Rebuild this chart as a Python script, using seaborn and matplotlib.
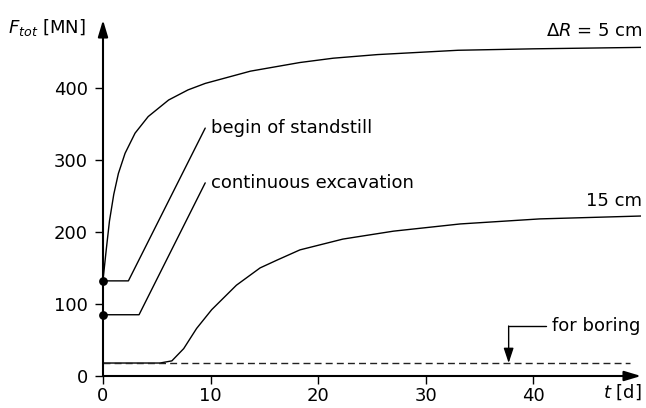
import numpy as np
import pandas as pd
import matplotlib
matplotlib.use("Agg")
import matplotlib.pyplot as plt
import seaborn as sns

# curve data
t_5cm = [0, 0.3, 0.6, 1.0, 1.43, 2.05, 2.98, 4.2, 6.1, 7.9, 9.5, 13.7, 18.3, 21.4, 25.5, 33, 40, 50]
f_5cm = [133, 175, 215, 252, 281, 309, 337, 360, 383, 397, 406, 423, 435, 441, 446, 452, 454, 456]

t_15cm = [0, 5.3, 6.4, 7.5, 8.7, 10.1, 12.4, 14.6, 16.2, 18.3, 22.3, 27, 33.2, 40.6, 50]
f_15cm = [18, 18, 21, 38, 66, 92, 126, 150, 161, 175, 190, 201, 211, 218, 222]

t_standstill = [0, 2.36, 9.5]
f_standstill = [132, 132, 344]

t_excav = [0, 3.35, 9.5]
f_excav = [85, 85, 268]

t_boring = [0, 49]
f_boring = [18, 18]

x_ticks = [0, 10, 20, 30, 40]
y_ticks = [0, 100, 200, 300, 400]

sns.set_style("ticks")
plt.rcParams['font.family'] = ['DejaVu Sans']
plt.rcParams['text.color'] = 'black'
plt.rcParams['mathtext.fontset'] = 'custom'
plt.rcParams['mathtext.rm'] = 'DejaVu Sans'
plt.rcParams['mathtext.it'] = 'DejaVu Sans:italic'

fig = plt.figure(figsize=(6.46, 4.08), dpi=100)
ax = fig.add_axes([103 / 646, 32 / 408, 538 / 646, 356 / 408])

lw = 1.0
sns.lineplot(x=t_5cm, y=f_5cm, ax=ax, color='black', lw=lw, sort=False)
sns.lineplot(x=t_15cm, y=f_15cm, ax=ax, color='black', lw=lw, sort=False)
sns.lineplot(x=t_standstill, y=f_standstill, ax=ax, color='black', lw=lw, sort=False)
sns.lineplot(x=t_excav, y=f_excav, ax=ax, color='black', lw=lw, sort=False)
ax.plot(t_boring, f_boring, color='#222222', lw=lw, dashes=(5, 3))
ax.scatter([t_standstill[0], t_excav[0]], [f_standstill[0], f_excav[0]],
           s=28, color='black', zorder=5, clip_on=False)

ax.set_xlim(0, 50)
ax.set_ylim(0, 494)
ax.set_xticks(x_ticks)
ax.set_yticks(y_ticks)
fs = 13
ax.tick_params(direction='out', length=6, width=1.0, labelsize=fs, colors='black')
ax.tick_params(axis='y', pad=5)
ax.tick_params(axis='x', pad=2)
ax.set_xlabel('')
ax.set_ylabel('')

# axes as arrows
for s in ax.spines.values():
    s.set_visible(False)
ax.annotate('', xy=(1.0, 0), xytext=(0, 0), xycoords='axes fraction',
            arrowprops=dict(arrowstyle='-|>,head_length=1.0,head_width=0.3',
                            color='black', lw=1.5, shrinkA=0, shrinkB=0))
ax.annotate('', xy=(0, 1.0), xytext=(0, 0), xycoords='axes fraction',
            arrowprops=dict(arrowstyle='-|>,head_length=1.0,head_width=0.3',
                            color='black', lw=1.5, shrinkA=0, shrinkB=0))

ax.text(10.0, 344, 'begin of standstill', fontsize=fs, va='center', ha='left')
ax.text(10.0, 268, 'continuous excavation', fontsize=fs, va='center', ha='left')
ax.text(50.1, 466, r'$ΔR$ = 5 cm', fontsize=fs, va='bottom', ha='right')
ax.text(50.1, 231, '15 cm', fontsize=fs, va='bottom', ha='right')

# "for boring" leader
ax.plot([41.2, 37.7], [69.4, 69.4], color='black', lw=1.0, clip_on=False)
ax.annotate('', xy=(37.7, 18), xytext=(37.7, 69.4), xycoords='data',
            arrowprops=dict(arrowstyle='-|>,head_length=0.9,head_width=0.3',
                            color='black', lw=1.0, shrinkA=0, shrinkB=0))
ax.text(41.7, 69.4, 'for boring', fontsize=fs, va='center', ha='left')

fig.text(8 / 646, 1 - 33 / 408, r'$F_{tot}$ [MN]', fontsize=fs, va='baseline', ha='left')
fig.text(642 / 646, (408 - 392) / 408, r'$t$ [d]', fontsize=fs, va='center', ha='right')

fig.savefig('out.png', dpi=100)
